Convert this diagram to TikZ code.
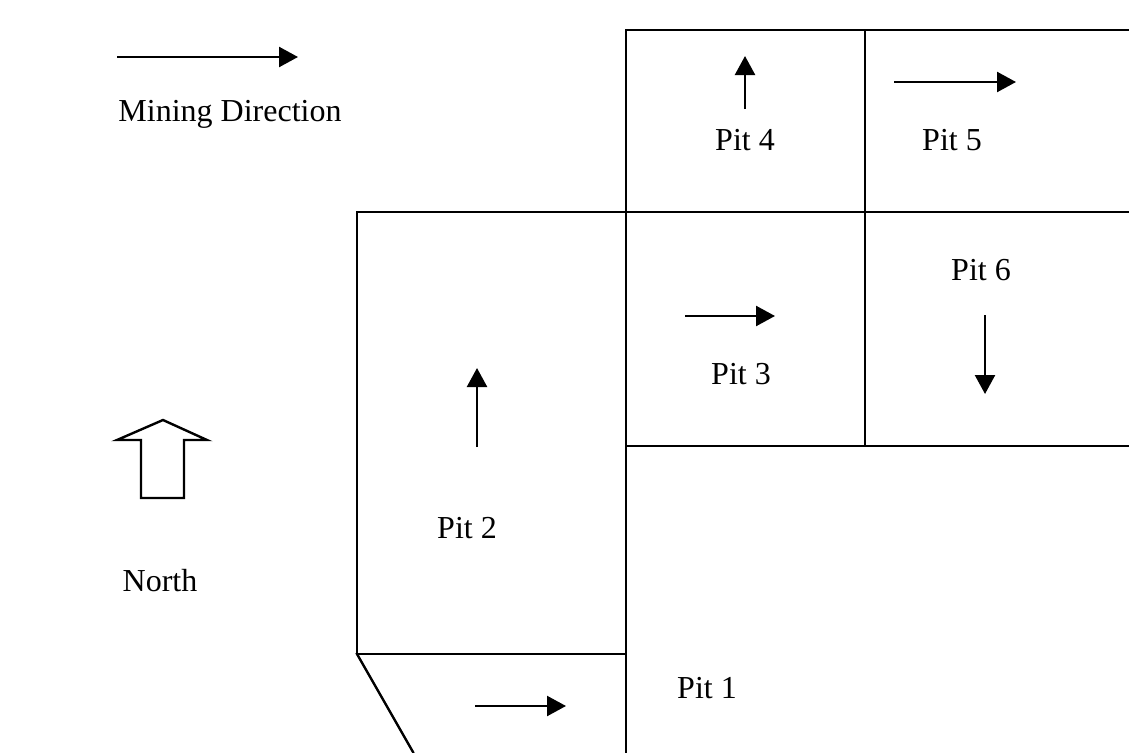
\documentclass[tikz,border=0pt]{standalone}
\usepackage{fontspec}
\setmainfont{Liberation Serif}
\usetikzlibrary{arrows.meta}
\begin{document}
\begin{tikzpicture}[x=1pt,y=-1pt,
  wall/.style={line width=2.4pt,line cap=rect},
  dirarrow/.style={line width=2.4pt,-{Triangle[length=19pt,width=20pt]}},
  lbl/.style={font=\fontsize{32}{37}\selectfont,inner sep=0pt}]
\useasboundingbox (0,0) rectangle (1129,752);
% pit outlines
\draw[wall] (626,30) -- (1129,30);
\draw[wall] (626,30) -- (626,752);
\draw[wall] (865,30) -- (865,446);
\draw[wall] (357,212) -- (1129,212);
\draw[wall] (626,446) -- (1129,446);
\draw[wall] (357,212) -- (357,654);
\draw[wall] (357,654) -- (626,654);
\draw[wall] (357,654) -- (413,752);
% north arrow
\draw[line width=2.4pt,line join=miter] (163,420) -- (207,440) -- (184,440) -- (184,498) -- (141,498) -- (141,440) -- (117,440) -- cycle;
% labels
\node[lbl] (md) at (230,114) {Mining Direction};
\node[lbl] (north) at (160,581) {North};
\node[lbl] (p1) at (707,688) {Pit 1};
\node[lbl] (p2) at (467,528) {Pit 2};
\node[lbl] (p3) at (741,374) {Pit 3};
\node[lbl] (p4) at (745,140) {Pit 4};
\node[lbl] (p5) at (952,140) {Pit 5};
\node[lbl] (p6) at (981,270) {Pit 6};
% direction arrows
\coordinate (mdA) at (117,57); \coordinate (mdB) at (298,57);
\coordinate (a4A) at (745,109); \coordinate (a4B) at (745,56);
\coordinate (a5A) at (894,82); \coordinate (a5B) at (1016,82);
\coordinate (a3A) at (685,316); \coordinate (a3B) at (775,316);
\coordinate (a6A) at (985,315); \coordinate (a6B) at (985,394);
\coordinate (a2A) at (477,447); \coordinate (a2B) at (477,368);
\coordinate (a1A) at (475,706); \coordinate (a1B) at (566,706);
\draw[dirarrow] (mdA) -- (mdB);
\draw[dirarrow] (a4A) -- (a4B);
\draw[dirarrow] (a5A) -- (a5B);
\draw[dirarrow] (a3A) -- (a3B);
\draw[dirarrow] (a6A) -- (a6B);
\draw[dirarrow] (a2A) -- (a2B);
\draw[dirarrow] (a1A) -- (a1B);
\end{tikzpicture}
\end{document}
